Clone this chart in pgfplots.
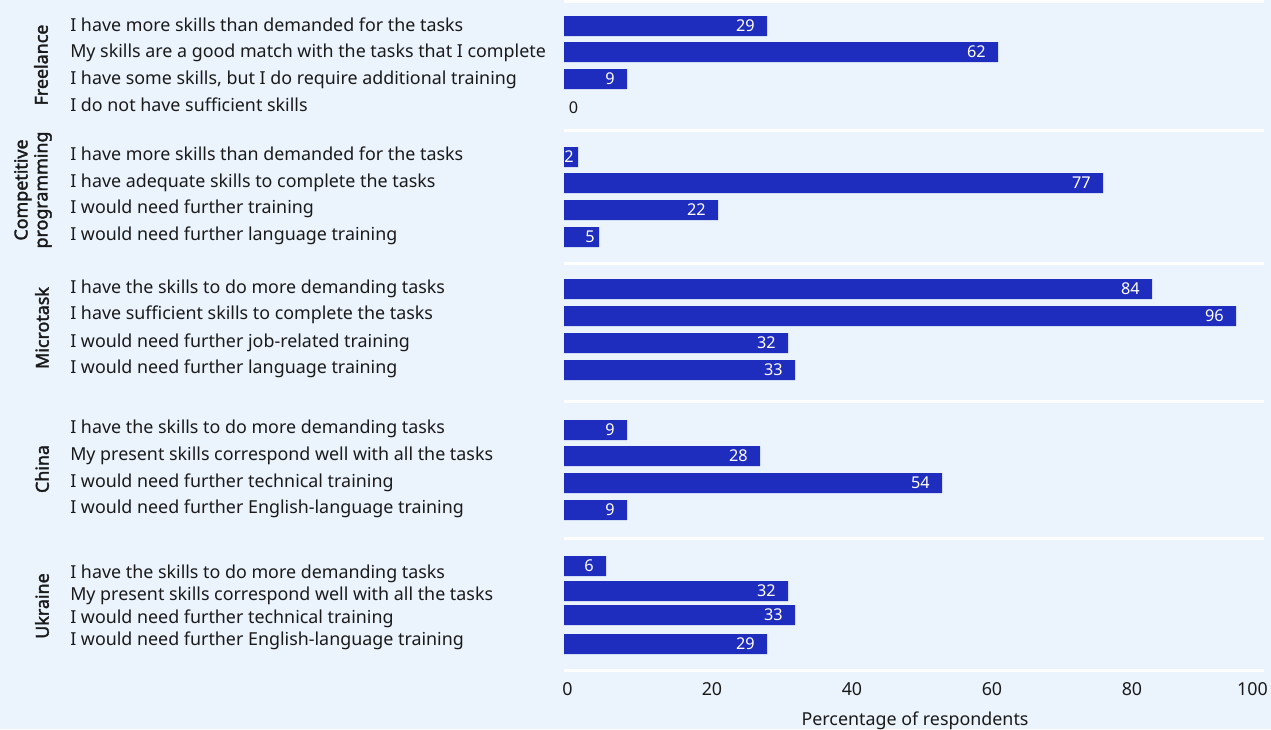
\documentclass[border=0pt]{standalone}
\usepackage{pgfplots}
\pgfplotsset{compat=1.18}
\usepackage{fontspec}
\setmainfont{Noto Sans}
\IfFontExistsTF{Noto Sans Bold}
  {\newfontfamily\grpfont{Noto Sans Bold}}
  {\newfontfamily\grpfont{Noto Sans}[FakeBold=2]}
\definecolor{bg}{HTML}{EBF4FD}
\definecolor{barblue}{HTML}{1F2DBE}
\definecolor{txt}{HTML}{1A1A1A}
\begin{document}
\begin{tikzpicture}[x=0.75pt,y=-0.75pt,font=\fontsize{13.4}{15.2}\selectfont,color=txt]
% background, 1271 x 729 px
\useasboundingbox (0,0) rectangle (1271,729);
\fill[bg] (0,0) rectangle (1271,729);
\begin{axis}[
  at={(423pt,0pt)}, anchor=north west,
  scale only axis, width=525pt, height=502.5pt,
  xmin=0, xmax=100, ymin=0, ymax=670, y dir=reverse,
  axis line style={draw=none},
  clip=false,
  /pgf/number format/assume math mode=true,
  xtick={0.5,21.14,41.14,61.14,81.14,98.36},
  xticklabels={0,20,40,60,80,100},
  ytick=\empty,
  major tick length=0pt,
  xticklabel style={yshift=-6pt, text=txt},
  yticklabel style={inner sep=0pt},
  extra y ticks={1,130,263,401,538.5,670},
  extra y tick labels={},
  extra y tick style={grid=major, major grid style={draw=white, line width=2.25pt}},
  xbar, bar width=15pt, bar shift=0pt,
  point meta=x,
  every node near coord/.append style={font=\fontsize{12.2}{14}\selectfont, inner xsep=0pt},
]
% most bars: value inside the bar end
\addplot[draw=none, fill=barblue, nodes near coords,
  every node near coord/.append style={anchor=east, xshift=-9pt, text=white}]
  coordinates {
  (29,26) (62,52) (9,79)
  (77,183) (22,210)
  (84,289) (96,316) (32,343) (33,370)
  (9,430) (28,456) (54,483) (9,510)
  (6,566) (32,591) (33,615) (29,644)
  };
% short bars: value close to the end
\addplot[draw=none, fill=barblue, nodes near coords,
  every node near coord/.append style={anchor=east, xshift=-3pt, text=white}]
  coordinates {(2,157) (5,237)};
% zero bar: only its value is shown
\addplot[draw=none, fill=none, nodes near coords,
  every node near coord/.append style={anchor=west, xshift=3.5pt, yshift=-1.5pt, text=txt}]
  coordinates {(0,106)};
\end{axis}
% axis title
\node[anchor=base] at (915,725) {Percentage of respondents};
% answer labels
\foreach \y/\t in {
  25/I have more skills than demanded for the tasks,
  51/My skills are a good match with the tasks that I complete,
  78/{I have some skills, but I do require additional training},
  105/I do not have sufficient skills,
  154/I have more skills than demanded for the tasks,
  181/I have adequate skills to complete the tasks,
  207/I would need further training,
  234/I would need further language training,
  287/I have the skills to do more demanding tasks,
  313/I have sufficient skills to complete the tasks,
  341/I would need further job-related training,
  367/I would need further language training,
  427/I have the skills to do more demanding tasks,
  454/My present skills correspond well with all the tasks,
  481/I would need further technical training,
  507/I would need further English-language training,
  572/I have the skills to do more demanding tasks,
  594/My present skills correspond well with all the tasks,
  617/I would need further technical training,
  639/I would need further English-language training}
  \node[anchor=base west, inner sep=0pt] at (70,\y+6.5) {\t};
% group labels
\begin{scope}[font=\fontsize{13.4}{15}\selectfont\grpfont]
\node[rotate=90] at (41,65) {Freelance};
\node[rotate=90, align=center] at (33,190) {Competitive\\programming};
\node[rotate=90] at (42,328) {Microtask};
\node[rotate=90] at (42,469) {China};
\node[rotate=90] at (42,606) {Ukraine};
\end{scope}
\end{tikzpicture}
\end{document}
